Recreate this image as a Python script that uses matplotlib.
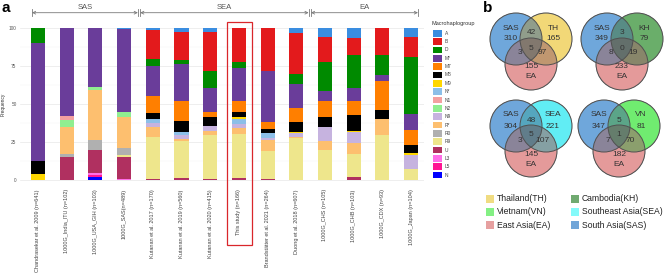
import numpy as np
import matplotlib
matplotlib.use("Agg")
import matplotlib.pyplot as plt
import matplotlib.transforms as mtransforms
from matplotlib.patches import Rectangle, Circle

plt.rcParams["font.family"] = ["Liberation Sans", "DejaVu Sans"]

# --- panel a: macrohaplogroup frequencies (%) per population -----------
studies = [
    "Chandrasekar et al. 2009 (n=641)",
    "1000G_India_ITU (n=102)",
    "1000G_USA_GIH (n=103)",
    "1000G_SAS(n=489)",
    "Kutanan et al. 2017 (n=170)",
    "Kutanan et al. 2019 (n=560)",
    "Kutanan et al. 2020 (n=415)",
    "This study (n=166)",
    "Brandstätter et al. 2021 (n=264)",
    "Duong et al. 2018 (n=607)",
    "1000G_CHS (n=105)",
    "1000G_CHB (n=103)",
    "1000G_CDX (n=93)",
    "1000G_Japan (n=104)",
]
regions = ["SAS", "SEA", "EA"]
highlight = 7  # "This study"

haplogroups = ["A", "B", "D", "M*", "M7", "M8", "M9", "N*", "N1", "N2",
               "N9", "R*", "R0", "R9", "U", "L3", "L5", "N"]
hg_colors = ["#3a8de0", "#e31a1c", "#008a00", "#6a3d9a", "#ff7f00", "#000000",
             "#ffd700", "#8cbfe8", "#f4a0a0", "#90ee90", "#c6b3df", "#fdbf6f",
             "#b0b0b0", "#eee68c", "#b03060", "#ff6ee8", "#ff1493", "#0000ff"]

A      = [0, 0, 0, 0.5, 1.1, 2.2, 2.6, 0, 0, 2.8, 5.5, 6.6, 0, 5.5]
B      = [0, 0, 0, 0, 19.3, 18.6, 25.8, 22.5, 28.4, 27.1, 16.4, 10.9, 17.5, 13.1]
D      = [9.5, 0, 0, 0, 4.4, 2.8, 10.9, 3.7, 0, 6.6, 19.7, 21.9, 13.1, 37.9]
M_star = [78, 58, 39, 54.5, 20, 24.1, 16, 21.4, 33.5, 16, 6.6, 8.8, 4.4, 10.3]
M7     = [0, 0, 0, 0, 11, 13.6, 3.3, 7.7, 4.8, 9.2, 10.5, 8.8, 19, 9.8]
M8     = [8.5, 0, 0, 0, 3.7, 7, 5.5, 3.3, 2.2, 6.8, 6.6, 10.5, 5.7, 5.5]
M9     = [4, 0, 0, 0, 0.6, 0, 0, 1.1, 0, 0.7, 0, 1, 0, 1.7]
N_star = [0, 0, 0, 0, 2.2, 2.2, 0, 3.7, 3.5, 0, 0, 0, 0, 0]
N1     = [0, 2.2, 0, 0, 0, 0, 0, 0, 0, 0, 0, 0, 0, 0]
N2     = [0, 5, 2, 3.3, 0, 0, 0, 0, 0, 0, 0, 0, 0, 0]
N9     = [0, 0, 0, 0, 2.6, 2.2, 3.3, 2.2, 1, 2.6, 9.2, 7.4, 0, 9.2]
R_star = [0, 17.5, 32.4, 20.4, 6.8, 1.8, 3, 4.4, 7.7, 0.4, 5.9, 6.8, 10.9, 0]
R0     = [0, 2.2, 7, 4.8, 0, 0, 0, 0, 0, 0, 0, 0, 0, 0]
R9     = [0, 0, 0, 1.5, 27.4, 24.2, 29, 28.9, 18, 27.8, 19.6, 15.6, 29.4, 7]
U      = [0, 15.1, 15.3, 14.1, 0.9, 1.3, 0.6, 1.1, 0.9, 0, 0, 1.7, 0, 0]
L3     = [0, 0, 1.3, 0.9, 0, 0, 0, 0, 0, 0, 0, 0, 0, 0]
L5     = [0, 0, 1.3, 0, 0, 0, 0, 0, 0, 0, 0, 0, 0, 0]
N      = [0, 0, 1.7, 0, 0, 0, 0, 0, 0, 0, 0, 0, 0, 0]
freq = [A, B, D, M_star, M7, M8, M9, N_star, N1, N2, N9, R_star, R0, R9, U, L3, L5, N]

# --- panel b: shared haplotypes between populations --------------------
venn_sets = [("SAS", "TH", "EA"), ("SAS", "KH", "EA"),
             ("SAS", "SEA", "EA"), ("SAS", "VN", "EA")]
only1 = [310, 349, 304, 347]
only2 = [165, 79, 221, 81]
only3 = [155, 233, 145, 182]
n12 = [42, 3, 48, 5]
n13 = [3, 8, 3, 7]
n23 = [97, 19, 107, 70]
n123 = [5, 0, 5, 1]

set_colors = {"SAS": "#6fa8dc", "TH": "#f2d878", "EA": "#e49a9a",
              "KH": "#6aae6a", "SEA": "#62eef4", "VN": "#70ec70"}
set_names = ["Thailand(TH)", "Vietnam(VN)", "East Asia(EA)",
             "Cambodia(KH)", "Southeast Asia(SEA)", "South Asia(SAS)"]
set_keys = ["TH", "VN", "EA", "KH", "SEA", "SAS"]
legend_colors = {"TH": "#f0dc82", "VN": "#84f084", "EA": "#e6a0a0",
                 "KH": "#70aa70", "SEA": "#84fafa", "SAS": "#70a5d8"}

W, H = 668, 277
fig = plt.figure(figsize=(W / 100, H / 100), dpi=100)

# ---- panel a ----
ax = fig.add_axes([20 / W, 1 - 182.3 / H, (424 - 20) / W, (182.3 - 26) / H])
x = np.arange(len(studies))
bottom = np.zeros(len(studies))
for vals, col in zip(freq[::-1], hg_colors[::-1]):
    ax.bar(x, vals, 0.49, bottom=bottom, color=col, linewidth=0, zorder=2)
    bottom += np.array(vals)

ax.set_xlim(-0.627, 13.45)
ax.set_ylim(-1.5, 101.5)
ax.set_yticks([0, 25, 50, 75, 100])
ax.set_yticks([12.5, 37.5, 62.5, 87.5], minor=True)
ax.grid(axis="y", which="major", color="#e8e8e8", lw=0.5, zorder=0)
ax.grid(axis="y", which="minor", color="#f3f3f3", lw=0.3, zorder=0)
ax.set_xticks(x)
ax.set_xticklabels(studies, rotation=90, fontsize=4, color="#444444", va="top")
ax.tick_params(axis="x", length=0, pad=5)
ax.tick_params(axis="y", which="both", length=0, pad=2.5, labelsize=3.4,
               labelcolor="#555555")
for s in ax.spines.values():
    s.set_visible(False)
ax.set_ylabel("Frequency", fontsize=3.5, color="#333333")
ax.yaxis.set_label_coords(-0.036, 0.5)

# ---- overlay in pixel units ----
ov = fig.add_axes([0, 0, 1, 1])
ov.axis("off")
trans = mtransforms.blended_transform_factory(ax.transData, ov.transData)

bracket_edges = [-0.21, 3.52, 9.47, 13.24]
for i, name in enumerate(regions):
    x0 = bracket_edges[i] + (0.04 if i else 0)
    x1 = bracket_edges[i + 1] - (0.04 if i < 2 else 0)
    ov.annotate("", xy=(x0, 12.7), xytext=(x1, 12.7), xycoords=trans,
                textcoords=trans,
                arrowprops=dict(arrowstyle="<->", color="#7a7a7a", lw=0.6,
                                shrinkA=0, shrinkB=0, mutation_scale=5))
    for xe in (x0, x1):
        ov.plot([xe, xe], [9.3, 16.3], color="#7a7a7a", lw=0.6, transform=trans)
    ov.text((x0 + x1) / 2, 7.3, name, transform=trans, ha="center",
            va="center", fontsize=5.5, color="#555555")

ov.add_patch(Rectangle((highlight - 0.42, 22), 0.86, 223, transform=trans,
                       fill=False, edgecolor="#d9262b", lw=0.9, clip_on=False))

# haplogroup legend
ov.text(432, 23.5, "Macrohaplogroup", fontsize=4, va="center", ha="left",
        color="#333333")
for i, (g, c) in enumerate(zip(haplogroups, hg_colors)):
    yc = 33.3 + 8.34 * i
    ov.add_patch(Rectangle((433, yc - 3.4), 9, 6.8, color=c, lw=0))
    ov.text(445, yc, g, fontsize=3.5, va="center", ha="left", color="#444444")

ov.text(2, 1, "a", fontsize=11, fontweight="bold", va="top", ha="left")
ov.text(483, 1, "b", fontsize=11, fontweight="bold", va="top", ha="left")

# ---- panel b: venn diagrams ----
venn_origins = [(531, 39), (622, 39), (531, 126), (619, 126)]
R = 26
label_offsets = {
    "name1": (-20, -11), "c1": (-20, 0), "name2": (22, -11), "c2": (22, 0),
    "c12": (0, -6), "c123": (0, 9), "c13": (-11, 14), "c23": (11, 14),
    "c3": (0, 28), "name3": (0, 38),
}


def hex_rgb(h):
    return np.array([int(h[i:i + 2], 16) / 255 for i in (1, 3, 5)])


for k, (ox, oy) in enumerate(venn_origins):
    names = venn_sets[k]
    centers = [(ox - 15, oy), (ox + 15, oy), (ox, oy + 25)]
    cols = [hex_rgb(set_colors[n]) for n in names]
    xs = np.arange(ox - 50, ox + 50, 0.25) + 0.125
    ys = np.arange(oy - 32, oy + 58, 0.25) + 0.125
    X, Y = np.meshgrid(xs, ys)
    masks = [((X - cx) ** 2 + (Y - cy) ** 2) <= R ** 2 for cx, cy in centers]
    cnt = sum(m.astype(float) for m in masks)
    rgb = sum(m[..., None] * c for m, c in zip(masks, cols))
    mean = rgb / np.maximum(cnt, 1)[..., None]
    img = np.zeros(X.shape + (4,))
    img[..., :3] = np.clip(mean * (0.82 ** np.maximum(cnt - 1, 0))[..., None], 0, 1)
    img[..., 3] = (cnt > 0).astype(float)
    ov.imshow(img, extent=(xs[0] - 0.125, xs[-1] + 0.125, ys[-1] + 0.125,
                           ys[0] - 0.125), origin="upper", aspect="auto",
              interpolation="antialiased", zorder=1)
    for cx, cy in centers:
        ov.add_patch(Circle((cx, cy), R, fill=False, edgecolor="#505050",
                            lw=0.7, zorder=2))
    texts = {
        "name1": names[0], "c1": only1[k], "name2": names[1], "c2": only2[k],
        "c12": n12[k], "c123": n123[k], "c13": n13[k], "c23": n23[k],
        "c3": only3[k], "name3": names[2],
    }
    for key, val in texts.items():
        dx, dy = label_offsets[key]
        ov.text(ox + dx, oy + dy, str(val), fontsize=6, ha="center",
                va="center", color="#333333", zorder=3)

# venn legend
for i, key in enumerate(set_keys):
    col, row = divmod(i, 3)
    x0 = 486 + 85 * col
    yc = 198.5 + 13.3 * row
    ov.add_patch(Rectangle((x0, yc - 4), 8, 8, color=legend_colors[key], lw=0))
    ov.text(x0 + 11, yc, set_names[i], fontsize=6.2, va="center", ha="left",
            color="#222222")

ov.set_xlim(0, W)
ov.set_ylim(H, 0)

fig.savefig("out.png", dpi=100)
